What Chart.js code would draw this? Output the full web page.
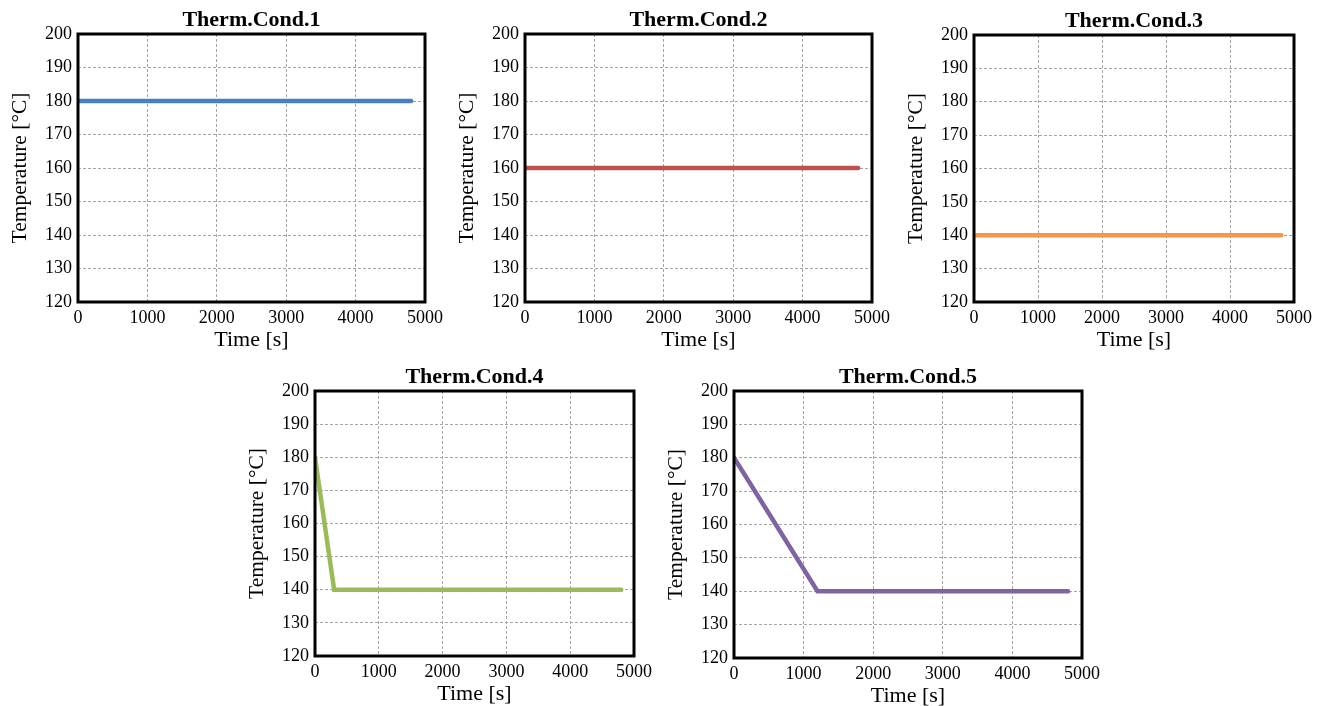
<!DOCTYPE html>
<html>
<head>
<meta charset="utf-8">
<script src="https://cdn.jsdelivr.net/npm/chart.js@4.4.1/dist/chart.umd.min.js"></script>
<style>
  body { margin: 0; background: #fff; width: 1321px; height: 706px; overflow: hidden; position: relative; }
  canvas { position: absolute; }
</style>
</head>
<body>
<canvas id="c1"></canvas>
<canvas id="c2"></canvas>
<canvas id="c3"></canvas>
<canvas id="c4"></canvas>
<canvas id="c5"></canvas>
<script>
// data
var titles = ['Therm.Cond.1', 'Therm.Cond.2', 'Therm.Cond.3', 'Therm.Cond.4', 'Therm.Cond.5'];
var cond1Time = [0, 4800];
var cond1Temp = [180, 180];
var cond2Time = [0, 4800];
var cond2Temp = [160, 160];
var cond3Time = [0, 4800];
var cond3Temp = [140, 140];
var cond4Time = [0, 300, 4800];
var cond4Temp = [180, 140, 140];
var cond5Time = [0, 1200, 4800];
var cond5Temp = [180, 140, 140];
var xTicks = [0, 1000, 2000, 3000, 4000, 5000];
var yTicks = [120, 130, 140, 150, 160, 170, 180, 190, 200];
var xLabel = 'Time [s]';
var yLabel = 'Temperature [°C]';

var colors = ['#4a7ec4', '#c0504d', '#f79646', '#9bbb59', '#8064a2'];
var times = [cond1Time, cond2Time, cond3Time, cond4Time, cond5Time];
var temps = [cond1Temp, cond2Temp, cond3Temp, cond4Temp, cond5Temp];

// plot box of each panel (left, top, width, height)
var boxes = [
  [78, 34, 347, 268],
  [525, 34, 347, 268],
  [974, 35, 320, 267],
  [315, 391, 319, 265],
  [734, 391, 348, 267]
];

var AXIS_W = 78, TITLE_H = 34, XAXIS_H = 56, RIGHT_PAD = 25;
var serif = 'Liberation Serif';

var frame = {
  id: 'frame',
  afterDatasetsDraw: function(chart) {
    var a = chart.chartArea, ctx = chart.ctx;
    ctx.save();
    ctx.lineWidth = 3;
    ctx.strokeStyle = '#000';
    ctx.strokeRect(a.left, a.top, a.right - a.left, a.bottom - a.top);
    ctx.restore();
  }
};

function plain(v) { return String(v); }

boxes.forEach(function(b, i) {
  var canvas = document.getElementById('c' + (i + 1));
  var w = AXIS_W + b[2] + RIGHT_PAD;
  var h = TITLE_H + b[3] + XAXIS_H;
  canvas.width = w;
  canvas.height = h;
  canvas.style.width = w + 'px';
  canvas.style.height = h + 'px';
  canvas.style.left = (b[0] - AXIS_W) + 'px';
  canvas.style.top = (b[1] - TITLE_H) + 'px';

  var points = times[i].map(function(t, k) { return {x: t, y: temps[i][k]}; });

  new Chart(canvas, {
    type: 'line',
    data: {
      datasets: [{
        data: points,
        borderColor: colors[i],
        borderWidth: 4.5,
        borderCapStyle: 'round',
        pointRadius: 0,
        fill: false,
        tension: 0
      }]
    },
    options: {
      responsive: false,
      animation: false,
      layout: { padding: { left: 0, top: 0, right: RIGHT_PAD, bottom: 0 } },
      plugins: {
        legend: { display: false },
        tooltip: { enabled: false },
        title: {
          display: true,
          text: titles[i],
          color: '#000',
          fullSize: false,
          font: { family: serif, size: 22, weight: 'bold' },
          padding: { top: 7, bottom: 0.6 }
        }
      },
      scales: {
        x: {
          type: 'linear',
          min: xTicks[0],
          max: xTicks[xTicks.length - 1],
          afterBuildTicks: function(s) { s.ticks = xTicks.map(function(v) { return {value: v}; }); },
          afterFit: function(s) { s.height = XAXIS_H; s.paddingLeft = 0; s.paddingRight = 0; },
          grid: { color: '#a6a6a6', lineWidth: 1, drawTicks: false },
          border: { display: false, dash: [3, 2] },
          ticks: { color: '#000', padding: 5, maxRotation: 0, callback: plain, font: { family: serif, size: 18 } },
          title: { display: true, text: xLabel, color: '#000', font: { family: serif, size: 22 }, padding: { top: 0, bottom: 5 } }
        },
        y: {
          min: yTicks[0],
          max: yTicks[yTicks.length - 1],
          afterBuildTicks: function(s) { s.ticks = yTicks.map(function(v) { return {value: v}; }); },
          afterFit: function(s) { s.width = AXIS_W; s.paddingTop = 0; s.paddingBottom = 0; },
          grid: { color: '#a6a6a6', lineWidth: 1, drawTicks: false },
          border: { display: false, dash: [3, 2] },
          ticks: { color: '#000', padding: 6, callback: plain, font: { family: serif, size: 18 } },
          title: { display: true, text: yLabel, color: '#000', font: { family: serif, size: 21.5 }, padding: { top: 7, bottom: 0 } }
        }
      }
    },
    plugins: [frame]
  });
});
</script>
</body>
</html>
